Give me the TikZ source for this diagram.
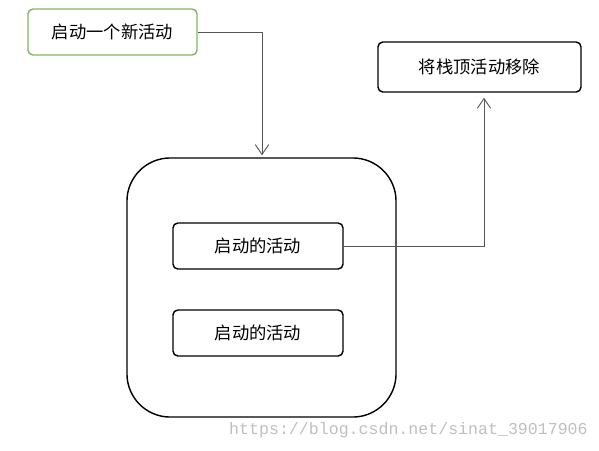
\documentclass[tikz,border=0pt]{standalone}
\usepackage{fontspec}
\setmainfont{Noto Sans CJK SC}
\newfontfamily\wmfont{Liberation Mono}
\usetikzlibrary{arrows.meta, calc}
\definecolor{mygreen}{RGB}{130,179,102}
\definecolor{myline}{RGB}{85,85,85}

\tikzset{
  actbox/.style={draw=black, line width=1pt, rounded corners=3.5pt,
    minimum width=4.25cm, minimum height=1.15cm, inner sep=0pt,
    font=\fontsize{12.3}{14}\selectfont},
  flow/.style={draw=myline, line width=0.65pt,
    -{Straight Barb[length=7pt,width=9.5pt]}},
}

\begin{document}
\begin{tikzpicture}[x=0.025cm, y=-0.025cm]
\useasboundingbox (0,0) rectangle (599,450);

% stack
\node[draw=black, line width=1pt, rounded corners=1.08cm, inner sep=0pt,
  minimum width=6.725cm, minimum height=6.475cm] (stack) at (261.5,287.5) {};
\node[actbox] (act1) at (258,246) {启动的活动};
\node[actbox] (act2) at (258,333) {启动的活动};

% new activity and removal
\node[actbox, draw=mygreen, minimum width=4.225cm] (new) at (112.5,32) {启动一个新活动};
\node[actbox, minimum width=5.075cm, minimum height=1.25cm] (remove) at (479.5,67) {将栈顶活动移除};

\draw[flow] (new.east) -| ($(stack.north)+(0.5,-2)$);
\draw[flow] (act1.east) -| ($(remove.south)+(4.5,5)$);

\node[text=black!25, font=\wmfont\fontsize{11.8}{13}\selectfont, anchor=east,
  inner sep=0pt] (mark) at (588,430) {https://blog.csdn.net/sinat\_39017906};
\end{tikzpicture}
\end{document}
